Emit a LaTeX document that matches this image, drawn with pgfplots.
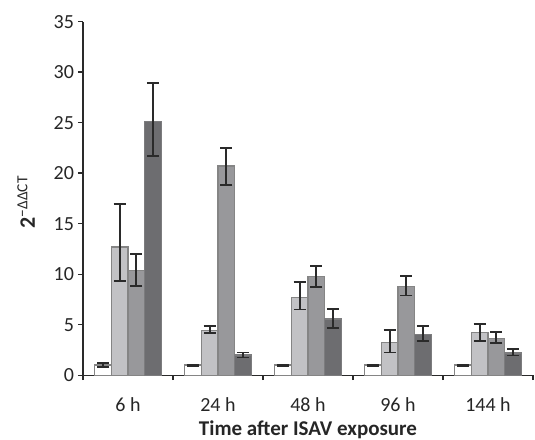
\documentclass[border=0pt]{standalone}
\usepackage{pgfplots}
\pgfplotsset{compat=1.18}
\usepackage{fontspec}
\setmainfont{Carlito}
\definecolor{axc}{HTML}{2A2A2A}
\definecolor{edge}{HTML}{858585}
\definecolor{cA}{HTML}{FFFFFF}
\definecolor{cB}{HTML}{C2C2C5}
\definecolor{cC}{HTML}{98989B}
\definecolor{cD}{HTML}{6D6D70}
\pgfplotsset{eb/.style={error bars/.cd, y dir=both, y explicit,
  error bar style={line width=1.8pt, axc},
  error mark options={rotate=90, mark size=6pt, line width=1.8pt, axc}}}
\begin{document}
\begin{tikzpicture}
\useasboundingbox (-83pt,-63.8pt) rectangle (452pt,375.2pt);
\begin{axis}[
  at={(0,0)}, anchor=south west,
  width=450pt, height=353.5pt, scale only axis,
  ybar=0pt, bar width=16.6pt,
  xmin=-0.5, xmax=4.5, ymin=0, ymax=35,
  axis x line*=bottom, axis y line*=left,
  axis line style={axc, line width=1.4pt},
  tick align=outside,
  major tick length=5pt,
  tick style={axc, line width=1.4pt},
  xtick={-0.5,0.5,1.5,2.5,3.5,4.5},
  xticklabels={},
  extra x ticks={0,1,2,3,4},
  extra x tick labels={6 h,24 h,48 h,96 h,144 h},
  extra x tick style={tick style={draw=none}, tick label style={anchor=base, yshift=-31pt}},
  ytick={0,5,...,35},
  /pgf/number format/assume math mode=true,
  tick label style={font=\fontsize{20}{23}\selectfont, text=black!85},
  yticklabel style={xshift=-0.5pt},
  xlabel={\textbf{Time after ISAV exposure}},
  ylabel={\textbf{2}\textsuperscript{−ΔΔCT}},
  label style={font=\fontsize{21}{24}\selectfont, text=black!85},
  xlabel style={at={(axis description cs:0.5,0)}, anchor=base, yshift=-60pt},
  ylabel style={at={(axis description cs:-0.1067,0.49)}, anchor=base, font=\fontsize{22}{25}\selectfont},
  clip=false,
]
\addplot[fill=cA, draw=edge, line width=1.3pt, eb] coordinates {
  (0,1.0) +- (0,0.2)
  (1,1.0) +- (0,0.05)
  (2,1.0) +- (0,0.05)
  (3,1.0) +- (0,0.05)
  (4,1.0) +- (0,0.05)
};
\addplot[fill=cB, draw=edge, line width=1.3pt, eb] coordinates {
  (0,12.7) += (0,4.25) -= (0,3.35)
  (1,4.45) += (0,0.4) -= (0,0.3)
  (2,7.7) += (0,1.5) -= (0,1.2)
  (3,3.25) += (0,1.2) -= (0,1.0)
  (4,4.25) += (0,0.8) -= (0,0.9)
};
\addplot[fill=cC, draw=edge, line width=1.3pt, eb] coordinates {
  (0,10.4) += (0,1.6) -= (0,1.6)
  (1,20.7) += (0,1.8) -= (0,1.9)
  (2,9.8) += (0,1.0) -= (0,1.1)
  (3,8.8) += (0,1.0) -= (0,0.9)
  (4,3.65) += (0,0.6) -= (0,0.5)
};
\addplot[fill=cD, draw=cD!90, line width=1.3pt, eb] coordinates {
  (0,25.15) += (0,3.75) -= (0,3.45)
  (1,2.0) += (0,0.25) -= (0,0.25)
  (2,5.55) += (0,1.0) -= (0,0.9)
  (3,4.05) += (0,0.8) -= (0,0.7)
  (4,2.2) += (0,0.4) -= (0,0.25)
};
\end{axis}
\end{tikzpicture}
\end{document}
